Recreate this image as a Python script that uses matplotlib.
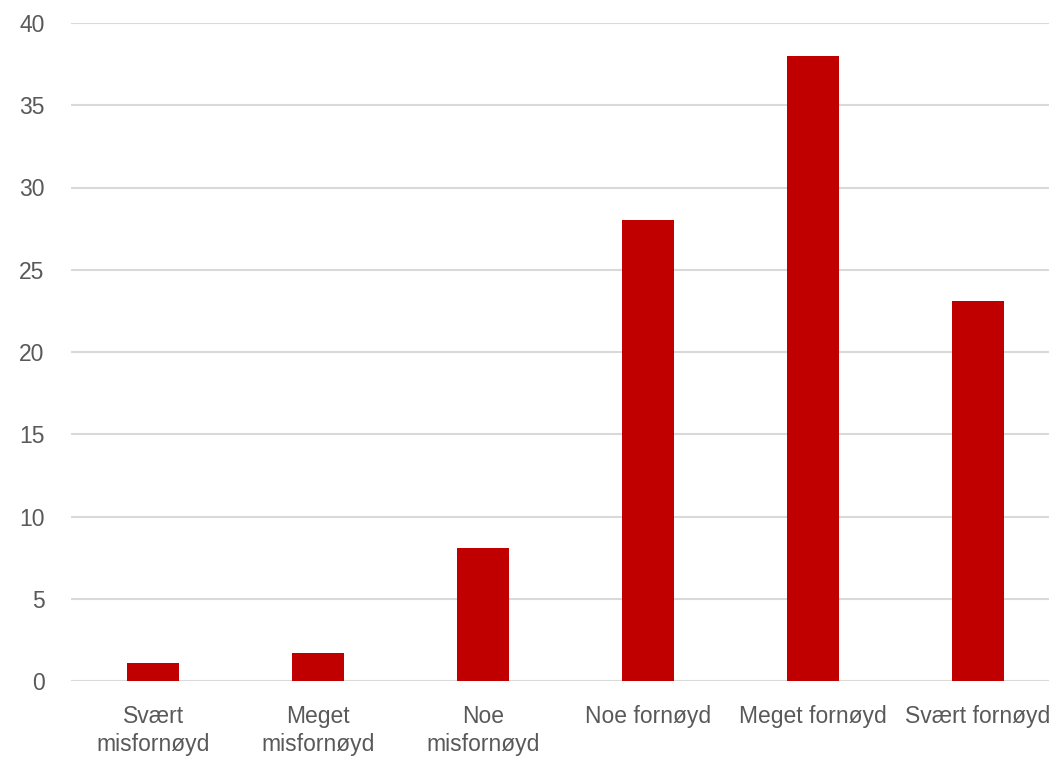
import matplotlib
matplotlib.use("Agg")
import matplotlib.pyplot as plt

categories = ["Svært\nmisfornøyd", "Meget\nmisfornøyd", "Noe\nmisfornøyd",
              "Noe fornøyd", "Meget fornøyd", "Svært fornøyd"]
values = [1.08, 1.69, 8.09, 28.0, 38.0, 23.1]
yticks = [0, 5, 10, 15, 20, 25, 30, 35, 40]

plt.rcParams['font.family'] = ['Liberation Sans', 'DejaVu Sans']

fig = plt.figure(figsize=(10.49, 7.6), dpi=100)
W, H = 1049, 760
left, right, top, bottom = 71, 1060, 23, 681
ax = fig.add_axes([left / W, 1 - bottom / H, (right - left) / W, (bottom - top) / H])

x = list(range(len(categories)))
ax.bar(x, values, width=0.316, color="#C00000", zorder=3)

ax.set_xlim(-0.5, len(categories) - 0.5)
ax.set_ylim(0, 40)
ax.set_yticks(yticks)
ax.set_xticks(x)
ax.set_xticklabels(categories, fontsize=16.5, color="#595959", linespacing=1.3)
ax.tick_params(axis='y', labelsize=16.5, labelcolor="#595959", length=0, pad=19)
ax.tick_params(axis='x', length=0, pad=17)
ax.yaxis.grid(True, color="#D9D9D9", linewidth=1.5, zorder=0)
ax.set_axisbelow(True)
for s in ax.spines.values():
    s.set_visible(False)

fig.savefig("out.png", dpi=100)
